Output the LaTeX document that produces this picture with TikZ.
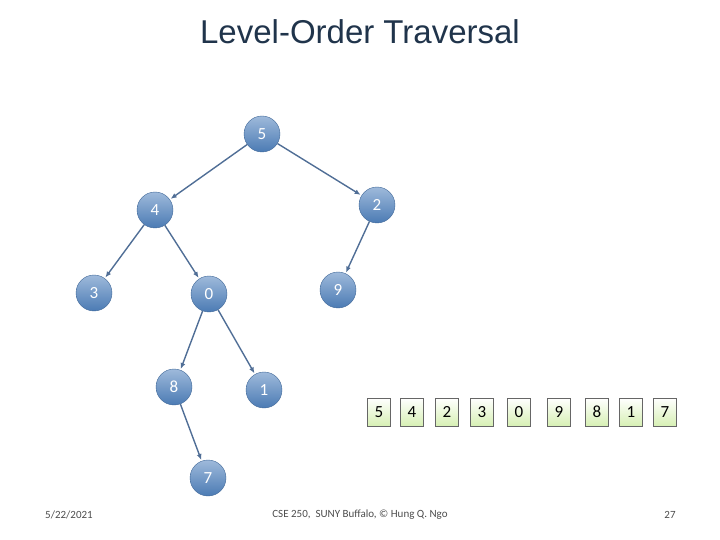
\documentclass[tikz,border=0pt]{standalone}
\usepackage{fontspec}
\setmainfont{Carlito}
\newfontfamily\titlefont{Liberation Sans}
\usetikzlibrary{arrows.meta}
\definecolor{nodeblue}{RGB}{79,129,189}
\definecolor{edgeblue}{RGB}{80,110,150}
\definecolor{qgreen}{RGB}{215,240,180}
\tikzset{
  treenode/.style={circle, minimum size=36pt, inner sep=0pt, draw=nodeblue!80!black,
    top color=nodeblue!55, bottom color=nodeblue!95!black, text=white, font=\fontsize{17}{17}\selectfont},
  edge/.style={-{Latex[length=6pt,width=5pt]}, edgeblue, line width=1.4pt, shorten >=1pt},
  qbox/.style={draw=black!60, minimum width=23pt, minimum height=28pt, inner sep=0pt,
    top color=white, bottom color=qgreen, font=\fontsize{17}{17}\selectfont}
}
\begin{document}
\begin{tikzpicture}[x=1pt,y=-1pt]
    \useasboundingbox (0,0) rectangle (720,540);

    % Title
    \node[font=\titlefont\fontsize{33}{33}\selectfont, text=black!60!nodeblue] (title) at (360,32) {Level-Order Traversal};

    % Tree nodes
    \node[treenode] (n5) at (262,134) {5};
    \node[treenode] (n4) at (155,210) {4};
    \node[treenode] (n2) at (377,205) {2};
    \node[treenode] (n3) at (94,293) {3};
    \node[treenode] (n0) at (209,294) {0};
    \node[treenode] (n9) at (338,290) {9};
    \node[treenode] (n8) at (174,387) {8};
    \node[treenode] (n1) at (264,390) {1};
    \node[treenode] (n7) at (208,478) {7};

    % Edges
    \draw[edge] (n5) -- (n4);
    \draw[edge] (n5) -- (n2);
    \draw[edge] (n4) -- (n3);
    \draw[edge] (n4) -- (n0);
    \draw[edge] (n2) -- (n9);
    \draw[edge] (n0) -- (n8);
    \draw[edge] (n0) -- (n1);
    \draw[edge] (n8) -- (n7);

    % Queue
    \foreach \x/\v/\i in {379/5/a, 412/4/b, 447/2/c, 482/3/d, 519/0/e, 559/9/f, 597/8/g, 631/1/h, 665/7/k}
      \node[qbox] (q\i) at (\x,412) {\v};

    % Footer
    \node[font=\fontsize{11}{11}\selectfont, text=black!70] (date) at (69,515) {5/22/2021};
    \node[font=\fontsize{11}{11}\selectfont, text=black!70] (foot) at (360,515) {CSE 250,\ \ SUNY Buffalo, \textcopyright{} Hung Q. Ngo};
    \node[font=\fontsize{11}{11}\selectfont, text=black!70] (page) at (670,515) {27};
\end{tikzpicture}
\end{document}
